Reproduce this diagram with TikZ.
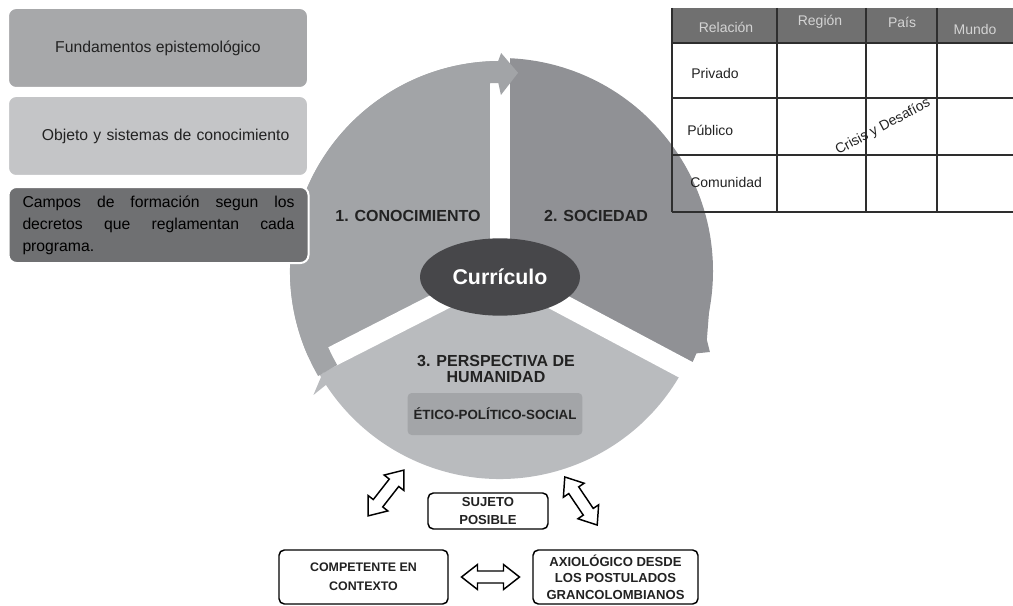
\documentclass[tikz,border=0pt]{standalone}
\usepackage{fontspec}
\setmainfont{Liberation Sans}
\usetikzlibrary{calc,shapes.geometric}

\definecolor{sectorA}{HTML}{A2A4A7}
\definecolor{sectorB}{HTML}{909195}
\definecolor{sectorC}{HTML}{B9BBBE}
\definecolor{boxA}{HTML}{A7A8AA}
\definecolor{boxB}{HTML}{C4C5C7}
\definecolor{boxC}{HTML}{6F7072}
\definecolor{hub}{HTML}{47474A}
\definecolor{ethic}{HTML}{A3A5A8}
\definecolor{header}{HTML}{707070}
\definecolor{headtext}{HTML}{D4D4D4}
\definecolor{grid}{HTML}{2E2E2E}
\definecolor{ink}{HTML}{222222}

\newcommand\spreadline[1]{\leavevmode\hbox to 204pt{#1}}

\tikzset{
	blockarrow/.pic={
		\draw[line width=1.1pt, fill=white, line join=miter] (-29,0) -- (-13,-12.5) -- (-13,-6) -- (13,-6) -- (13,-12.5) -- (29,0) -- (13,12.5) -- (13,6) -- (-13,6) -- (-13,12.5) -- cycle;
	}
}

\begin{document}
\begin{tikzpicture}[x=0.75pt, y=-0.75pt,
	fieldbox/.style={rounded corners=6pt, draw=white, line width=1.5pt, minimum width=225pt, minimum height=60pt, text=ink, font=\fontsize{11.8pt}{14pt}\selectfont},
	sectorlabel/.style={text=ink, align=center, font=\bfseries\fontsize{12pt}{12.5pt}\selectfont},
	outcome/.style={draw=black, line width=1.1pt, rounded corners=4pt, fill=white, align=center, text=ink, font=\bfseries\fontsize{9.8pt}{13pt}\selectfont},
	headcell/.style={text=headtext, font=\fontsize{10.5pt}{12pt}\selectfont},
	rowcell/.style={text=ink, anchor=west, inner sep=0pt, font=\fontsize{10.5pt}{12pt}\selectfont},
	gridline/.style={draw=grid, line width=1.1pt}]
	\def\radius{210}
	\def\inner{188}
	\def\gap{15pt}

	\useasboundingbox (0,0) rectangle (1013,606);
	\coordinate (Center) at (500,271);

	% the three sectors
	\fill[sectorA] (Center) -- ++(153:\radius) arc[start angle=153, end angle=270, radius=\radius] -- cycle;
	\fill[sectorB] (Center) -- ++(270:213) arc[start angle=270, end angle=388, radius=213] -- cycle;
	\fill[sectorB] ($(Center)+(8:212)$) -- ($(Center)+(18.4:218)$) -- ($(Center)+(21.1:225)$) -- ($(Center)+(24.8:200)$) -- ($(Center)+(8:200)$) -- cycle;
	\fill[sectorC] (Center) -- ++(28:208) arc[start angle=28, end angle=153, radius=208] -- cycle;

	% white gaps
	\foreach \a in {28,153,270}
		\draw[white, line width=\gap] (Center) -- ++(\a:240);

	% outer band and arrow tips
	\fill[sectorA] ($(Center)+(150:\inner)$) arc[start angle=150, end angle=270, radius=\inner] -- ($(Center)+(270:\radius)$) arc[start angle=270, end angle=150, radius=\radius] -- cycle;
	\fill[sectorA] ($(Center)+(269.5:\radius)$) -- ($(Center)+(270.3:218)$) -- ($(Center)+(275.2:199)$) -- ($(Center)+(270.3:176)$) -- ($(Center)+(269.5:\inner)$) -- cycle;
	\fill[sectorC] ($(Center)+(150.2:204)$) -- ($(Center)+(146.4:224)$) -- ($(Center)+(146.8:208)$) -- ($(Center)+(146:196)$) -- cycle;

	\node[sectorlabel] (conocimiento) at (408,216) {1. CONOCIMIENTO};
	\node[sectorlabel] (sociedad) at (596,216) {2. SOCIEDAD};
	\node[sectorlabel] (perspectiva) at (496,369) {3. PERSPECTIVA DE\\HUMANIDAD};
	\node[fill=ethic, rounded corners=3pt, minimum width=131pt, minimum height=31.5pt, text=ink, font=\bfseries\fontsize{10pt}{12pt}\selectfont] (etico) at (495,414) {ÉTICO-POLÍTICO-SOCIAL};
	\node[ellipse, fill=hub, text=white, minimum width=120pt, minimum height=58pt, font=\bfseries\fontsize{16pt}{18pt}\selectfont] (curriculo) at (500,277) {Currículo};

	% boxes on the left
	\node[fieldbox, fill=boxA] (fundamentos) at (158,48) {Fundamentos epistemológico};
	\node[fieldbox, fill=boxB, text width=197pt, align=right, inner xsep=14pt] (objeto) at (158,136) {Objeto y sistemas de conocimiento};
	\node[fieldbox, fill=boxC, minimum height=57pt, text width=204pt, inner xsep=9.75pt, align=left, text=black, font=\fontsize{11.8pt}{16.5pt}\selectfont] (campos) at (158.5,225) {\spreadline{Campos\hfill de\hfill formación\hfill segun\hfill los}\\\spreadline{decretos\hfill que\hfill reglamentan\hfill cada}\\programa.};

	% table
	\fill[header] (672,8) rectangle (1013,43);
	\foreach \x in {672,777,866,937}
		\draw[gridline] (\x,8) -- (\x,212);
	\foreach \y in {43,98,155,212}
		\draw[gridline] (672,\y) -- (1013,\y);
	\node[headcell] (relacion) at (726,27) {Relación};
	\node[headcell] (region) at (820,22) {Región};
	\node[headcell] (pais) at (902,22) {País};
	\node[headcell] (mundo) at (975,29) {Mundo};
	\node[rowcell] (privado) at (691,73) {Privado};
	\node[rowcell] (publico) at (687,130) {Público};
	\node[rowcell] (comunidad) at (690,182) {Comunidad};
	\node[text=ink, rotate=28, font=\fontsize{10.5pt}{12pt}\selectfont] (crisis) at (883,127) {Crisis y Desafíos};

	% subject boxes
	\node[outcome, minimum width=90pt, minimum height=27pt] (sujeto) at (488,511) {SUJETO\\POSIBLE};
	\node[outcome, minimum width=126.75pt, minimum height=40.5pt, font=\bfseries\fontsize{9.3pt}{14pt}\selectfont] (competente) at (363.5,577) {COMPETENTE EN\\CONTEXTO};
	\node[outcome, minimum width=123.75pt, minimum height=40.5pt, font=\bfseries\fontsize{9.8pt}{12.5pt}\selectfont] (axiologico) at (615.5,577) {AXIOLÓGICO DESDE\\LOS POSTULADOS\\GRANCOLOMBIANOS};

	\pic[rotate=52] at (386,493) {blockarrow};
	\pic[rotate=-56] at (581,501) {blockarrow};
	\pic at ($(competente.east)!0.5!(axiologico.west)$) {blockarrow};
\end{tikzpicture}
\end{document}
